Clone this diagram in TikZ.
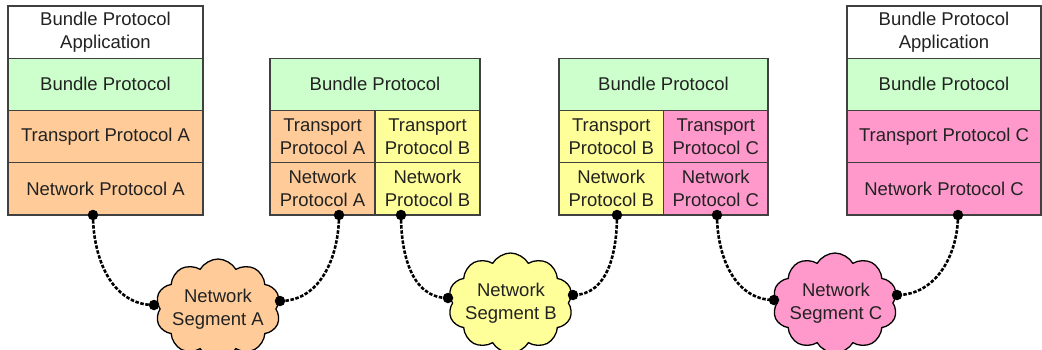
\documentclass[tikz,border=0pt]{standalone}
\usepackage{fontspec}
\setmainfont{Liberation Sans}
\usetikzlibrary{shapes.symbols}
\definecolor{bpgreen}{HTML}{CCFFCC}
\definecolor{protoA}{HTML}{FFCC99}
\definecolor{protoB}{HTML}{FFFF99}
\definecolor{protoC}{HTML}{FF99CC}
\definecolor{linec}{HTML}{404040}
\definecolor{textc}{HTML}{222222}
\begin{document}
\begin{tikzpicture}[x=1pt,y=-1pt,
  cell/.style={draw=linec, line width=1.2pt, minimum height=52.25pt, inner sep=0pt,
    align=center, text=textc, font=\fontsize{18.5}{23}\selectfont},
  wide/.style={cell, minimum width=#1},
  segcloud/.style={cloud, cloud puffs=10, cloud puff arc=120, cloud ignores aspect,
    draw=black, line width=1.3pt,
    minimum width=125pt, minimum height=100pt, inner sep=0pt},
  cloudtext/.style={align=center, text=textc, font=\fontsize{18.5}{23}\selectfont},
  dot/.style={circle, fill=black, inner sep=0pt, minimum size=10.5pt},
  conn/.style={line width=2.6pt, dash pattern=on 3.5pt off 1.6pt}]
\path[use as bounding box] (0,0) rectangle (1042,349);
\clip (0,0) rectangle (1042,349);

% Stack 1
\node[wide=195pt, fill=white]  (s1app) at (105.5,32.125) {Bundle Protocol\\Application};
\node[wide=195pt, fill=bpgreen] (s1bp) at (105.5,84.375) {Bundle Protocol};
\node[wide=195pt, fill=protoA] (s1tp) at (105.5,136.625) {Transport Protocol A};
\node[wide=195pt, fill=protoA] (s1np) at (105.5,188.875) {Network Protocol A};

% Stack 2
\node[wide=210pt, fill=bpgreen] (s2bp) at (375,84.375) {Bundle Protocol};
\node[wide=105pt, fill=protoA] (s2tpa) at (322.5,136.625) {Transport\\Protocol A};
\node[wide=105pt, fill=protoB] (s2tpb) at (427.5,136.625) {Transport\\Protocol B};
\node[wide=105pt, fill=protoA] (s2npa) at (322.5,188.875) {Network\\Protocol A};
\node[wide=105pt, fill=protoB] (s2npb) at (427.5,188.875) {Network\\Protocol B};

% Stack 3
\node[wide=209pt, fill=bpgreen] (s3bp) at (663.5,84.375) {Bundle Protocol};
\node[wide=104.5pt, fill=protoB] (s3tpb) at (611.25,136.625) {Transport\\Protocol B};
\node[wide=104.5pt, fill=protoC] (s3tpc) at (715.75,136.625) {Transport\\Protocol C};
\node[wide=104.5pt, fill=protoB] (s3npb) at (611.25,188.875) {Network\\Protocol B};
\node[wide=104.5pt, fill=protoC] (s3npc) at (715.75,188.875) {Network\\Protocol C};

% Stack 4
\node[wide=194pt, fill=white]  (s4app) at (944,32.125) {Bundle Protocol\\Application};
\node[wide=194pt, fill=bpgreen] (s4bp) at (944,84.375) {Bundle Protocol};
\node[wide=194pt, fill=protoC] (s4tp) at (944,136.625) {Transport Protocol C};
\node[wide=194pt, fill=protoC] (s4np) at (944,188.875) {Network Protocol C};

% Clouds
\node[segcloud, fill=protoA] (cA) at (218,309) {};
\node[cloudtext] (tA) at (218,309) {Network\\Segment A};
\node[segcloud, fill=protoB] (cB) at (510.5,303) {};
\node[cloudtext] (tB) at (511,303) {Network\\Segment B};
\node[segcloud, fill=protoC] (cC) at (835,303) {};
\node[cloudtext] (tC) at (836,303) {Network\\Segment C};

% Dots on stacks
\node[dot] (d1)  at (93,215) {};
\node[dot] (d2a) at (339,215) {};
\node[dot] (d2b) at (401,215) {};
\node[dot] (d3b) at (617,215) {};
\node[dot] (d3c) at (717,215) {};
\node[dot] (d4)  at (958,215) {};

% Dots on clouds
\node[dot] (cAl) at (154,305) {};
\node[dot] (cAr) at (280,301) {};
\node[dot] (cBl) at (448,298) {};
\node[dot] (cBr) at (573,295) {};
\node[dot] (cCl) at (774,300) {};
\node[dot] (cCr) at (897,295) {};

% Connectors
\draw[conn] (d1.center)  to[out=-90,in=180] (cAl.center);
\draw[conn] (d2a.center) to[out=-90,in=0]   (cAr.center);
\draw[conn] (d2b.center) to[out=-90,in=180] (cBl.center);
\draw[conn] (d3b.center) to[out=-90,in=0]   (cBr.center);
\draw[conn] (d3c.center) to[out=-90,in=180] (cCl.center);
\draw[conn] (d4.center)  to[out=-90,in=0]   (cCr.center);
\end{tikzpicture}
\end{document}
